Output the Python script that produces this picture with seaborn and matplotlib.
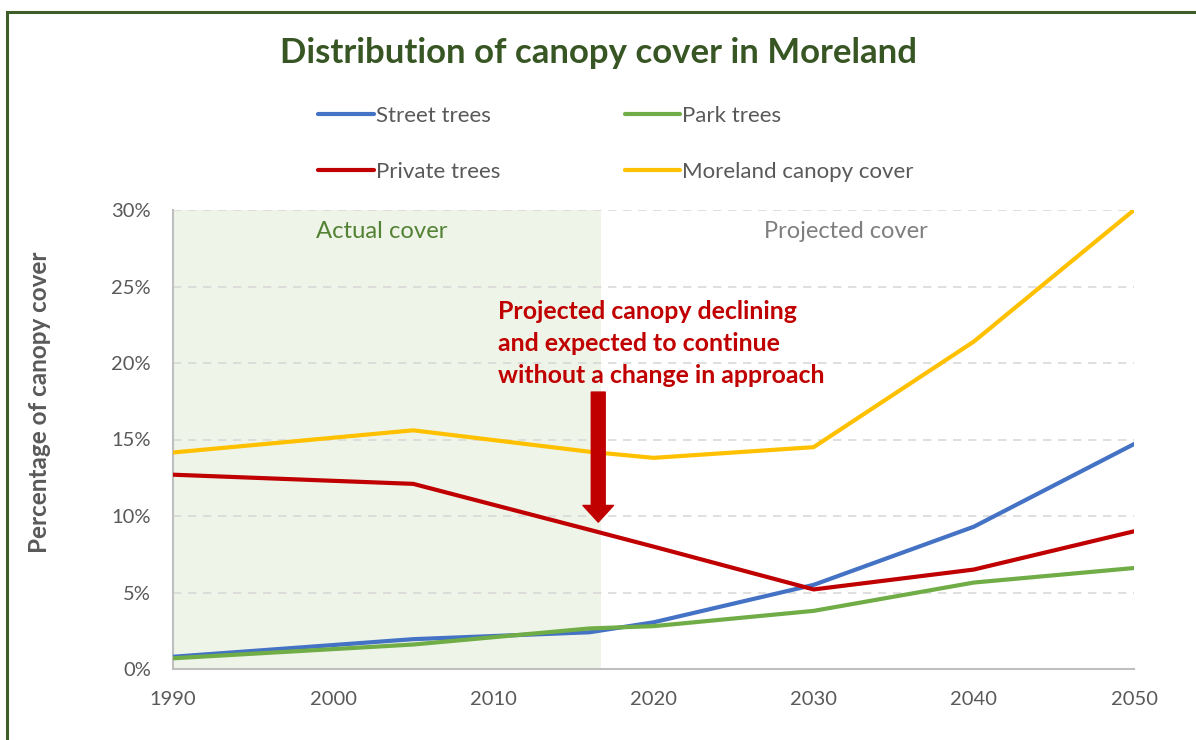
import pandas as pd
import matplotlib.pyplot as plt
import matplotlib.patches as patches
from matplotlib.ticker import PercentFormatter
import seaborn as sns

# -----------------------------------------------
# Data (percent of area)
# -----------------------------------------------
years = [1990, 2005, 2016, 2020, 2030, 2040, 2050]
street_trees = [0.8, 1.95, 2.4, 3.05, 5.5, 9.3, 14.7]
park_trees = [0.7, 1.6, 2.65, 2.8, 3.8, 5.65, 6.6]
private_trees = [12.7, 12.1, 9.1, 8.0, 5.2, 6.5, 9.0]
moreland_cover = [14.15, 15.6, 14.2, 13.8, 14.5, 21.4, 30.0]

series_names = ['Street trees', 'Park trees', 'Private trees', 'Moreland canopy cover']
series_colors = ['#4472C4', '#70AD47', '#C00000', '#FFC000']
x_ticks = [1990, 2000, 2010, 2020, 2030, 2040, 2050]
y_ticks = [0, 5, 10, 15, 20, 25, 30]
actual_end = 2016.7

# long format for seaborn
frames = []
for name, vals in zip(series_names, [street_trees, park_trees, private_trees, moreland_cover]):
    frames.append(pd.DataFrame({'year': years, 'cover': vals, 'series': name}))
df = pd.concat(frames, ignore_index=True)

sns.set_style('white')
plt.rcParams['font.family'] = ['Lato', 'DejaVu Sans']

fig = plt.figure(figsize=(11.96, 7.40), dpi=100)
ax = fig.add_axes([173 / 1196, 1 - 669 / 740, (1134 - 173) / 1196, (669 - 210) / 740])

# shaded "actual" period
ax.axvspan(1990, actual_end, color='#EEF4E8', zorder=0, lw=0)

sns.lineplot(data=df, x='year', y='cover', hue='series', hue_order=series_names,
             palette=series_colors, linewidth=3, ax=ax, legend=True, zorder=3)

ax.set_xlim(1990, 2050)
ax.set_ylim(0, 30)
ax.set_xticks(x_ticks)
ax.set_yticks(y_ticks)
ax.yaxis.set_major_formatter(PercentFormatter(decimals=0))
ax.grid(axis='y', color='#D9D9D9', linestyle=(0, (5, 4)), linewidth=1.2, zorder=1)
ax.set_axisbelow(True)
ax.tick_params(axis='x', length=0, pad=16, labelsize=14.5, labelcolor='#595959')
ax.tick_params(axis='y', length=0, pad=16, labelsize=14.5, labelcolor='#595959')
ax.set_xlabel('')
ax.set_ylabel('')
for side in ['top', 'right']:
    ax.spines[side].set_visible(False)
for side in ['left', 'bottom']:
    ax.spines[side].set_color('#BFBFBF')
    ax.spines[side].set_linewidth(1.5)

# legend above plot, 2 columns
handles, labels = ax.get_legend_handles_labels()
ax.get_legend().remove()
order = [0, 2, 1, 3]
leg = fig.legend([handles[i] for i in order], [labels[i] for i in order],
                 ncol=2, loc='upper left', bbox_to_anchor=(298 / 1196, 1 - 86 / 740),
                 frameon=False, fontsize=16, handlelength=2.5, handletextpad=0.1,
                 labelspacing=1.62, columnspacing=5.6)
for t in leg.get_texts():
    t.set_color('#595959')

# annotations
ax.text(2003.0, 28.6, 'Actual cover', color='#548235', fontsize=17.2, ha='center', va='center')
ax.text(2032.0, 28.6, 'Projected cover', color='#7F7F7F', fontsize=17, ha='center', va='center')
ax.text(2010.3, 24.1, 'Projected canopy declining\nand expected to continue\nwithout a change in approach',
        color='#C00000', fontsize=17.9, fontweight='bold', ha='left', va='top', linespacing=1.46)
ax.annotate('', xy=(2016.55, 9.6), xytext=(2016.55, 18.1),
            arrowprops=dict(arrowstyle='simple,head_length=1.2,head_width=2.2,tail_width=1.0',
                            color='#C00000', shrinkA=0, shrinkB=0), zorder=5)

fig.text(0.5, 1 - 53 / 740, 'Distribution of canopy cover in Moreland', ha='center', va='center',
         fontsize=25, fontweight='bold', color='#375623')
fig.text(40 / 1196, 1 - 402 / 740, 'Percentage of canopy cover', rotation=90, ha='center', va='center',
         fontsize=17.5, fontweight='bold', color='#595959')

# outer border (only top/left visible in reference)
fig.add_artist(patches.Rectangle((7 / 1196, -0.1), 1.2, (1 - 12 / 740) + 0.1, transform=fig.transFigure,
                                 fill=False, edgecolor='#3F5F2A', linewidth=2.2))

plt.savefig('out.png', dpi=100)
print("Saved: out.png")
